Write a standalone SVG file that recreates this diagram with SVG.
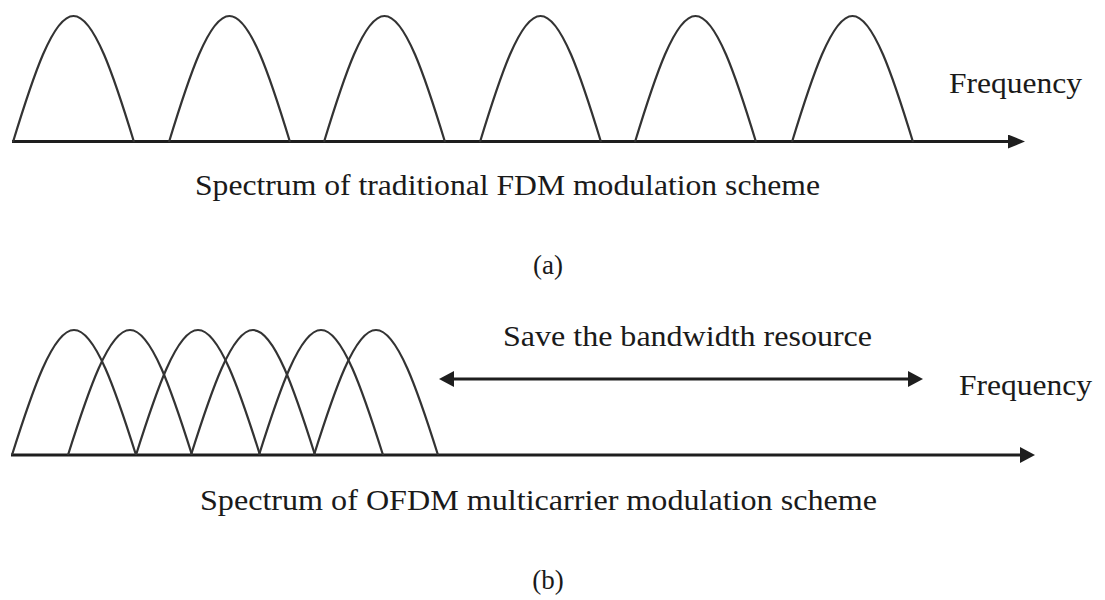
<svg xmlns="http://www.w3.org/2000/svg" xmlns:xlink="http://www.w3.org/1999/xlink" width="1105" height="600" viewBox="0 0 1105 600">
<style>
.hump{fill:none;stroke:#333;stroke-width:2.2;stroke-linejoin:round}
.axis{fill:none;stroke:#1e1e1e;stroke-width:3}
.dbl{fill:none;stroke:#1e1e1e;stroke-width:3}
.lbl{font-family:"Liberation Serif","Times New Roman",serif;font-size:30px;fill:#1a1a1a}
.cap{font-family:"Liberation Serif","Times New Roman",serif;font-size:27px;fill:#1a1a1a;text-anchor:middle}
</style>
<defs>
<marker id="arr" viewBox="0 0 17 14" refX="13" refY="7" markerWidth="17" markerHeight="14" markerUnits="userSpaceOnUse" orient="auto-start-reverse">
<path d="M0,0 L17,7 L0,14 z" fill="#1e1e1e"/>
</marker>
<marker id="arr2" viewBox="0 0 15 16" refX="11" refY="8" markerWidth="15" markerHeight="16" markerUnits="userSpaceOnUse" orient="auto-start-reverse">
<path d="M0,0 L15,8 L0,16 z" fill="#1e1e1e"/>
</marker>
<path id="humpA" d="M0,0 c 19.72 -64.54 39.76 -126 60.5 -126 c 20.74 0 40.78 61.46 60.5 126"/>
<path id="humpB" d="M0,0 c 20.21 -64.03 40.75 -125 62 -125 c 21.25 0 41.79 60.98 62 125"/>
</defs>
<rect width="1105" height="600" fill="#fff"/>

<g id="connectors">
<line class="axis" x1="12" y1="141.5" x2="1021" y2="141.5" marker-end="url(#arr)"/>
<line class="axis" x1="11" y1="455" x2="1031" y2="455" marker-end="url(#arr2)"/>
<line class="dbl" x1="443" y1="379" x2="919" y2="379" marker-start="url(#arr2)" marker-end="url(#arr2)"/>
</g>

<g id="fdm-carriers">
<use class="hump" href="#humpA" x="13" y="142"/>
<use class="hump" href="#humpA" x="169" y="142"/>
<use class="hump" href="#humpA" x="324" y="142"/>
<use class="hump" href="#humpA" x="480" y="142"/>
<use class="hump" href="#humpA" x="635" y="142"/>
<use class="hump" href="#humpA" x="792" y="142"/>
</g>

<g id="ofdm-carriers">
<use class="hump" href="#humpB" x="12" y="455"/>
<use class="hump" href="#humpB" x="68" y="455"/>
<use class="hump" href="#humpB" x="136" y="455"/>
<use class="hump" href="#humpB" x="191" y="455"/>
<use class="hump" href="#humpB" x="259" y="455"/>
<use class="hump" href="#humpB" x="314" y="455"/>
</g>

<g id="label-freq-a"><text class="lbl" x="949" y="93" textLength="133" lengthAdjust="spacingAndGlyphs">Frequency</text></g>
<g id="label-fdm"><text class="lbl" x="195" y="195" textLength="625" lengthAdjust="spacingAndGlyphs">Spectrum of traditional FDM modulation scheme</text></g>
<g id="caption-a"><text class="cap" x="548" y="274">(a)</text></g>

<g id="label-save"><text class="lbl" x="503" y="346" textLength="369" lengthAdjust="spacingAndGlyphs">Save the bandwidth resource</text></g>
<g id="label-freq-b"><text class="lbl" x="959" y="395" textLength="133" lengthAdjust="spacingAndGlyphs">Frequency</text></g>
<g id="label-ofdm"><text class="lbl" x="200" y="510" textLength="677" lengthAdjust="spacingAndGlyphs">Spectrum of OFDM multicarrier modulation scheme</text></g>
<g id="caption-b"><text class="cap" x="548" y="589">(b)</text></g>
</svg>
